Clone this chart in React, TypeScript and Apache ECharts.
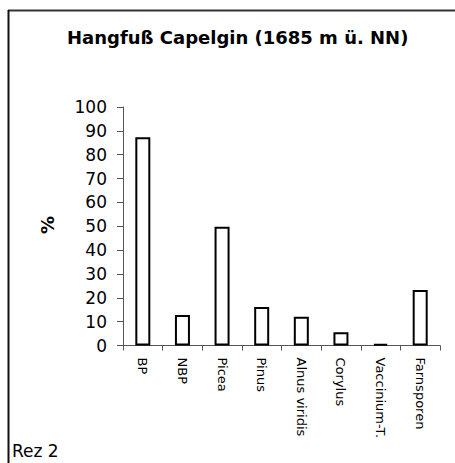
import React, { useEffect, useRef } from "react";
import * as echarts from "echarts";

const titleText = "Hangfuß Capelgin (1685 m ü. NN)";
const categories = ["BP", "NBP", "Picea", "Pinus", "Alnus viridis", "Corylus", "Vaccinium-T.", "Farnsporen"];
const values = [87.3, 12.8, 49.8, 16.1, 12.1, 5.6, 0.7, 23.3];
const yAxisName = "%";
const footnote = "Rez 2";

const FONT = "DejaVu Sans";

export default function App() {
  const ref = useRef<HTMLDivElement>(null);
  useEffect(() => {
    if (!ref.current) return;
    const chart = echarts.init(ref.current, undefined, { renderer: "svg" });
    chart.setOption({
      animation: false,
      backgroundColor: "#ffffff",
      title: {
        text: titleText,
        left: 62,
        top: 23,
        textStyle: { fontFamily: FONT, fontSize: 18, fontWeight: "bold", color: "#000" },
      },
      grid: { left: 123, right: 15, top: 107, bottom: 117.5, containLabel: false },
      xAxis: {
        type: "category",
        data: categories,
        axisLine: { show: true, lineStyle: { color: "#555", width: 1 } },
        axisTick: { show: true, length: 5, lineStyle: { color: "#555" } },
        axisLabel: {
          interval: 0,
          rotate: -90,
          margin: 12,
          fontFamily: FONT,
          fontSize: 13,
          color: "#000",
        },
      },
      yAxis: {
        type: "value",
        min: 0,
        max: 100,
        interval: 10,
        splitLine: { show: false },
        axisLine: { show: true, lineStyle: { color: "#555", width: 1 } },
        axisTick: { show: true, length: 6, lineStyle: { color: "#555" } },
        axisLabel: { margin: 16, fontFamily: FONT, fontSize: 17, color: "#000" },
      },
      series: [
        {
          type: "bar",
          data: values,
          barWidth: 15,
          itemStyle: { color: "#ffffff", borderColor: "#000000", borderWidth: 2 },
        },
      ],
      graphic: [
        {
          type: "line",
          shape: { x1: 8, y1: 10.5, x2: 455, y2: 10.5 },
          style: { stroke: "#333", lineWidth: 2 },
        },
        {
          type: "line",
          shape: { x1: 8.5, y1: 10, x2: 8.5, y2: 463 },
          style: { stroke: "#111", lineWidth: 2 },
        },
        {
          type: "text",
          x: 47,
          y: 225,
          rotation: Math.PI / 2,
          style: {
            text: yAxisName,
            fontFamily: FONT,
            fontSize: 18,
            fontWeight: "bold",
            fill: "#000",
            align: "center",
            verticalAlign: "middle",
          },
        },
        {
          type: "text",
          x: 12,
          y: 442,
          style: {
            text: footnote,
            fontFamily: FONT,
            fontSize: 17,
            fill: "#000",
            align: "left",
            verticalAlign: "top",
          },
        },
      ],
    });
    return () => chart.dispose();
  }, []);
  return (
    <div
      ref={ref}
      style={{ position: "absolute", left: 0, top: 0, width: 455, height: 463 }}
    />
  );
}
